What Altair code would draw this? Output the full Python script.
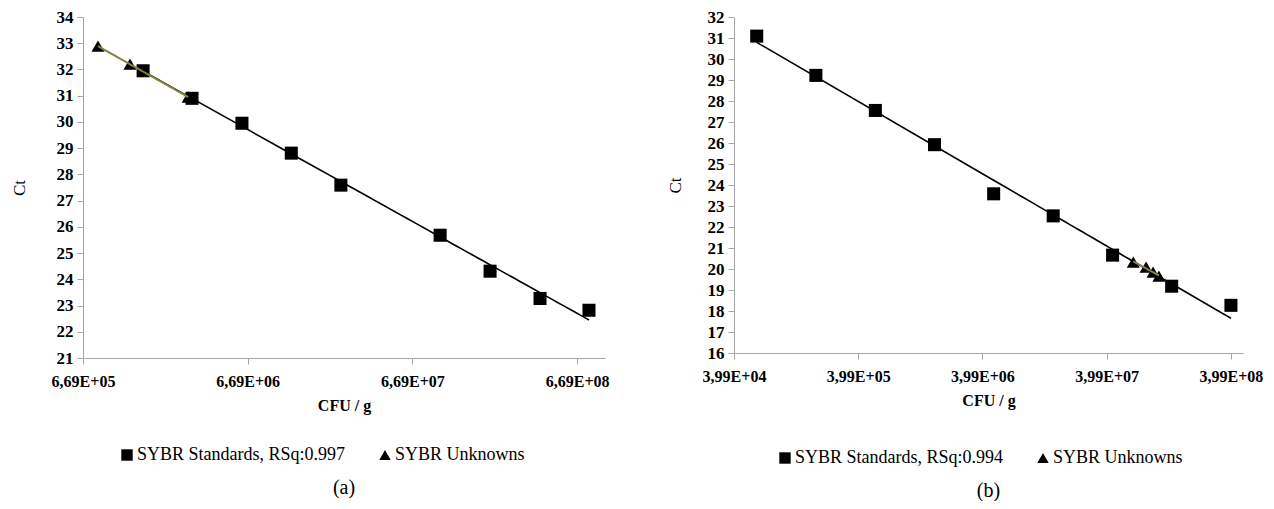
import altair as alt
import pandas as pd

# ---------------- data ----------------
a_std_cfu = [1.55e6, 3.07e6, 6.17e6, 1.23e7, 2.46e7, 9.85e7, 1.98e8, 3.98e8, 7.89e8]
a_std_ct = [31.95, 30.90, 29.95, 28.81, 27.59, 25.68, 24.31, 23.27, 22.82]
a_unk_cfu = [8.25e5, 1.29e6, 2.91e6]
a_unk_ct = [32.89, 32.20, 30.95]

b_std_cfu = [6.08e4, 1.82e5, 5.48e5, 1.64e6, 4.91e6, 1.48e7, 4.45e7, 1.33e8, 3.99e8]
b_std_ct = [31.09, 29.22, 27.55, 25.92, 23.58, 22.53, 20.66, 19.18, 18.27]
b_unk_cfu = [6.53e7, 8.28e7, 9.42e7, 1.05e8]
b_unk_ct = [20.33, 20.09, 19.85, 19.66]

a_series = ["SYBR Standards, RSq:0.997", "SYBR Unknowns"]
b_series = ["SYBR Standards, RSq:0.994", "SYBR Unknowns"]

a_ticks = [6.69e5, 6.69e6, 6.69e7, 6.69e8]
a_tick_labels = ["6,69E+05", "6,69E+06", "6,69E+07", "6,69E+08"]
b_ticks = [3.99e4, 3.99e5, 3.99e6, 3.99e7, 3.99e8]
b_tick_labels = ["3,99E+04", "3,99E+05", "3,99E+06", "3,99E+07", "3,99E+08"]

a_xdomain = [6.69e5, 9.87e8]
b_xdomain = [3.99e4, 4.99e8]
a_ydomain = [21, 34]
b_ydomain = [16, 32]

FONT = "Liberation Serif"
OLIVE = "#84843f"
AXIS_GRAY = "#a6a6a6"


def label_expr(ticks, labels):
    expr = "''"
    for t, lab in reversed(list(zip(ticks, labels))):
        expr = f"datum.value < {t * 1.5} ? '{lab}' : ({expr})"
    return expr


def panel(std_cfu, std_ct, unk_cfu, unk_ct, series, ticks, tick_labels,
          xdom, ydom, width, height, caption, legend_x, legend_y, ytitle_x):
    df = pd.DataFrame({
        "cfu": list(std_cfu) + list(unk_cfu),
        "ct": list(std_ct) + list(unk_ct),
        "series": [series[0]] * len(std_cfu) + [series[1]] * len(unk_cfu),
    })
    base = alt.Chart(df)
    x = alt.X(
        "cfu:Q",
        scale=alt.Scale(type="log", domain=xdom, nice=False),
        axis=alt.Axis(
            values=ticks, labelExpr=label_expr(ticks, tick_labels),
            title="CFU / g", grid=False, tickSize=6, labelPadding=9,
            titlePadding=8, domainColor=AXIS_GRAY, tickColor=AXIS_GRAY,
            labelFont=FONT, labelFontSize=16, labelFontWeight="bold",
            labelColor="black", titleFont=FONT, titleFontSize=16,
            titleFontWeight="bold", titleColor="black", labelFlush=False,
            labelOverlap=False,
        ),
    )
    y = alt.Y(
        "ct:Q",
        scale=alt.Scale(domain=ydom, nice=False, zero=False),
        axis=alt.Axis(
            values=list(range(ydom[0], ydom[1] + 1)), title="Ct", grid=False,
            tickSize=6, labelPadding=4, titleX=ytitle_x, minExtent=37,
            maxExtent=37, domainColor=AXIS_GRAY, tickColor=AXIS_GRAY,
            labelFont=FONT, labelFontSize=17, labelFontWeight="bold",
            labelColor="black", titleFont=FONT, titleFontSize=17,
            titleFontWeight="normal", titleColor="black", labelOverlap=False,
            labelBound=False,
        ),
    )
    points = base.mark_point(filled=True, size=170, opacity=1, color="black").encode(
        x=x, y=y,
        shape=alt.Shape(
            "series:N",
            scale=alt.Scale(domain=series, range=["square", "triangle-up"]),
            legend=alt.Legend(
                title=None, orient="none", direction="horizontal",
                legendX=legend_x, legendY=legend_y, columnPadding=30,
                gridAlign="none",
                labelFont=FONT, labelFontSize=18, labelColor="black",
                labelOffset=1, symbolSize=130, symbolFillColor="black",
                symbolStrokeColor="black", symbolStrokeWidth=0,
                labelLimit=400,
            ),
        ),
    )
    std_line = (
        base.transform_filter(alt.datum.series == series[0])
        .transform_regression("cfu", "ct", method="log")
        .mark_line(color="black", strokeWidth=1.6)
        .encode(x=x, y=y)
    )
    unk_line = (
        base.transform_filter(alt.datum.series == series[1])
        .transform_regression("cfu", "ct", method="log")
        .mark_line(color=OLIVE, strokeWidth=2)
        .encode(x=x, y=y)
    )
    return alt.layer(points, std_line, unk_line).properties(
        width=width, height=height,
        title=alt.TitleParams(caption, orient="bottom", anchor="middle",
                              font=FONT, fontSize=20, fontWeight="normal",
                              color="black", offset=14),
    )


pa = panel(a_std_cfu, a_std_ct, a_unk_cfu, a_unk_ct, a_series, a_ticks,
           a_tick_labels, a_xdomain, a_ydomain, 522, 341, "(a)", 35, 429, -55)
pb = panel(b_std_cfu, b_std_ct, b_unk_cfu, b_unk_ct, b_series, b_ticks,
           b_tick_labels, b_xdomain, b_ydomain, 509, 336, "(b)", 42, 432, -50)

chart = (
    alt.hconcat(pa, pb, spacing=56)
    .resolve_scale(x="independent", y="independent", shape="independent")
    .resolve_legend(shape="independent")
    .configure(font=FONT)
    .configure_axis(labelFont=FONT, titleFont=FONT, labelOverlap=False)
    .configure_legend(labelFont=FONT)
    .configure_title(font=FONT)
    .configure_view(stroke=None)
    .properties(padding={"left": 2, "top": 0, "right": 0, "bottom": 0},
                background="white")
)

chart.save("out.html", embed_options={"renderer": "svg", "actions": False})
